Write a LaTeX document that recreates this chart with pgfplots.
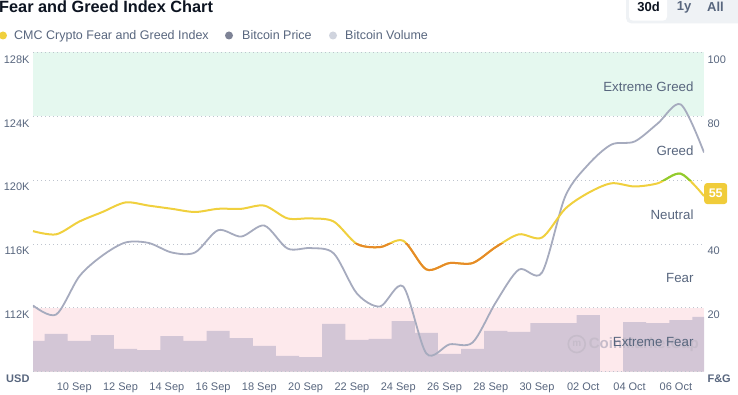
\documentclass[border=0pt]{standalone}
\usepackage{pgfplots}
\pgfplotsset{compat=1.18}
\usepackage{pgfplotstable}
\usepackage{fontspec}
\setmainfont{Liberation Sans}
\definecolor{fgyellow}{RGB}{240,208,62}
\definecolor{fgorange}{RGB}{230,138,40}
\definecolor{fggreen}{RGB}{142,204,48}
\definecolor{btcgrey}{RGB}{166,171,190}
\definecolor{voldot}{RGB}{208,212,222}
\definecolor{pricedot}{RGB}{126,131,150}
\definecolor{volbar}{RGB}{211,198,214}
\definecolor{greenband}{RGB}{229,248,239}
\definecolor{pinkband}{RGB}{253,233,236}
\definecolor{labgrey}{RGB}{88,102,126}
\definecolor{gridgrey}{RGB}{190,196,206}
\definecolor{titleblack}{RGB}{13,20,33}
\definecolor{btnbg}{RGB}{239,242,245}
\definecolor{badge}{RGB}{240,204,58}
\definecolor{wm}{RGB}{198,188,202}

\pgfplotstableread{
d fg price vol
0 44 112.14 9.6
1 43 111.57 11.8
2 47 113.96 9.6
3 50 115.27 11.4
4 53 116.09 7.1
5 52 116.06 6.7
6 51 115.46 11.1
7 50 115.46 9.6
8 51 116.86 12.7
9 51 116.46 10.5
10 52 117.15 8.0
11 48 115.71 4.9
12 48 115.74 4.5
13 47 115.40 14.9
14 40 112.89 9.9
15 39 112.08 10.2
16 41 113.33 15.8
17 32 109.13 12.1
18 34 109.70 5.5
19 34 109.82 7.1
20 39 112.33 12.7
21 43 114.39 12.4
22 42 114.21 15.2
23 51 118.97 15.2
24 56 120.98 17.7
25 59 122.23 0
26 58 122.42 15.5
27 59 123.55 15.2
28 62 124.74 16.1
29 55 121.73 17.1
}\data

\pgfplotsset{
  base/.style={width=671pt, height=319pt, scale only axis, anchor=south west,
    at={(33pt,22.5pt)}, xmin=0, xmax=29},
}
\tikzset{
  lab/.style={font=\fontsize{11}{13}\selectfont, text=labgrey},
  band/.style={anchor=east, xshift=-7pt, yshift=-2.5pt, font=\fontsize{13.3}{15}\selectfont, text=labgrey},
}

\begin{document}
\begin{tikzpicture}[x=1pt,y=1pt]
\useasboundingbox (0,0) rectangle (738,394);

% title and legend
\node[anchor=base west, inner sep=0pt, font=\bfseries\fontsize{16.3}{19}\selectfont, text=titleblack] at (-1,381) {Fear and Greed Index Chart};
\fill[fgyellow] (3,358.5) circle (4);
\node[anchor=base west, inner sep=0pt, font=\fontsize{12.5}{15}\selectfont, text=labgrey] at (14,354) {CMC Crypto Fear and Greed Index};
\fill[pricedot] (229,358.5) circle (4);
\node[anchor=base west, inner sep=0pt, font=\fontsize{12.5}{15}\selectfont, text=labgrey] at (242,354) {Bitcoin Price};
\fill[voldot] (333,358.5) circle (4);
\node[anchor=base west, inner sep=0pt, font=\fontsize{12.5}{15}\selectfont, text=labgrey] at (345,354) {Bitcoin Volume};

% range buttons
\fill[btnbg, rounded corners=5pt] (626,370.7) rectangle (750,404);
\fill[white, rounded corners=4pt] (629,373.3) rectangle (667,400);
\node[font=\bfseries\fontsize{13}{15}\selectfont, text=titleblack] at (648.5,387) {30d};
\node[font=\bfseries\fontsize{13}{15}\selectfont, text=labgrey] at (684,387) {1y};
\node[font=\bfseries\fontsize{13}{15}\selectfont, text=labgrey] at (715.5,387) {All};

% F&G base axis: bands, volume, grid, labels
\begin{axis}[base, ymin=0, ymax=100,
  axis line style={draw=none}, major tick length=0pt,
  xtick={2,4,...,28},
  xticklabels={10 Sep,12 Sep,14 Sep,16 Sep,18 Sep,20 Sep,22 Sep,24 Sep,26 Sep,28 Sep,30 Sep,02 Oct,04 Oct,06 Oct},
  xticklabel style={lab, xshift=-5pt, yshift=-8pt},
  ytick={0,20,40,60,80,100},
  yticklabels={\textbf{F\&G},20,40,{},80,100},
  yticklabel pos=right,
  yticklabel style={lab, yshift=-7pt},
  ymajorgrids,
  grid style={gridgrey, line width=0.8pt, dash pattern=on 0.9pt off 3.1pt},
  axis on top,
]
\addplot[draw=none, fill=greenband] coordinates {(0,80) (29,80) (29,100) (0,100)};
\addplot[draw=none, fill=pinkband] coordinates {(0,0) (29,0) (29,20) (0,20)};
\addplot[ybar, bar width=1, fill=volbar, draw=none] table[x=d, y=vol] {\data};
\node[text=wm, font=\bfseries\fontsize{15}{18}\selectfont] at (axis cs:26.4,8.3) {CoinMarketCap};
\node[circle, draw=wm, line width=1.6pt, minimum size=17pt, inner sep=0pt, text=wm, font=\bfseries\fontsize{10}{10}\selectfont] at (axis cs:23.5,8.6) {m};
\node[band] at (axis cs:29,90) {Extreme Greed};
\node[band] at (axis cs:29,70) {Greed};
\node[band] at (axis cs:29,50) {Neutral};
\node[band] at (axis cs:29,30) {Fear};
\node[band] at (axis cs:29,10) {Extreme Fear};
\end{axis}

% price axis
\begin{axis}[base, ymin=108, ymax=128,
  axis line style={draw=none}, major tick length=0pt,
  xtick=\empty,
  ytick={108,112,116,120,124,128},
  yticklabels={\textbf{USD},112K,116K,120K,124K,128K},
  yticklabel style={lab, yshift=-7pt},
]
\addplot[btcgrey, line width=1.8pt, smooth, mark=none] table[x=d, y=price] {\data};
\end{axis}

% F&G line (yellow) + badge
\begin{axis}[base, ymin=0, ymax=100, hide axis, clip=false]
\addplot[fgyellow, line width=2pt, smooth, mark=none] table[x=d, y=fg] {\data};
\addplot[draw=none, mark=none, nodes near coords={\textbf{55}},
  nodes near coords style={anchor=west, fill=badge, text=white, rounded corners=3pt,
    minimum width=23pt, minimum height=21pt, inner sep=0pt, yshift=2.5pt,
    font=\bfseries\fontsize{12.5}{14}\selectfont}] coordinates {(29,55)};
\end{axis}

% fear part (orange), clipped below 40
\begin{axis}[width=671pt, height=127.6pt, scale only axis, anchor=south west,
  at={(33pt,22.5pt)}, xmin=0, xmax=29, ymin=0, ymax=40, hide axis]
\addplot[fgorange, line width=2pt, smooth, mark=none] table[x=d, y=fg] {\data};
\end{axis}

% greed part (green), clipped above 60
\begin{axis}[width=671pt, height=127.6pt, scale only axis, anchor=south west,
  at={(33pt,213.9pt)}, xmin=0, xmax=29, ymin=60, ymax=100, hide axis]
\addplot[fggreen, line width=2pt, smooth, mark=none] table[x=d, y=fg] {\data};
\end{axis}

\end{tikzpicture}
\end{document}
